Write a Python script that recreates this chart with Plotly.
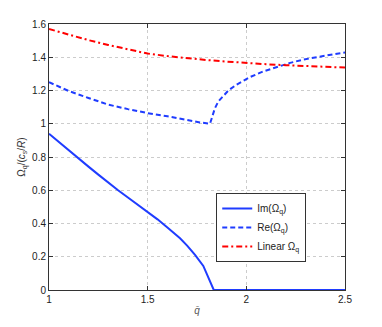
import plotly.graph_objects as go

# Data
q_im = [1.0, 1.05, 1.1, 1.15, 1.2, 1.25, 1.3, 1.35, 1.4, 1.45, 1.5, 1.55, 1.6, 1.664, 1.7, 1.74, 1.782, 1.835, 2.0, 2.5]
im_vals = [0.94, 0.889, 0.839, 0.79, 0.742, 0.694, 0.646, 0.6, 0.556, 0.514, 0.472, 0.425, 0.376, 0.311, 0.267, 0.211, 0.145, 0.0, 0.0, 0.0]

q_re = [1.0, 1.1, 1.2, 1.25, 1.3, 1.4, 1.5, 1.6, 1.7, 1.765, 1.816, 1.825, 1.841, 1.858, 1.88, 1.909, 1.95,
        1.977, 2.019, 2.086, 2.171, 2.222, 2.289, 2.373, 2.441, 2.5]
re_vals = [1.25, 1.197, 1.155, 1.134, 1.115, 1.088, 1.064, 1.045, 1.022, 1.008, 1.0, 1.04, 1.094, 1.134, 1.165,
           1.2, 1.235, 1.255, 1.281, 1.315, 1.349, 1.366, 1.386, 1.405, 1.418, 1.428]

q_lin = [1.0, 1.1, 1.2, 1.3, 1.4, 1.5, 1.6, 1.7, 1.8, 1.9, 2.0, 2.1, 2.2, 2.3, 2.4, 2.5]
lin_vals = [1.57, 1.535, 1.503, 1.474, 1.447, 1.422, 1.407, 1.394, 1.383, 1.374, 1.364, 1.358, 1.352, 1.347, 1.342, 1.338]

x_ticks = [1, 1.5, 2, 2.5]
x_labels = ["1", "1.5", "2", "2.5"]
y_ticks = [0, 0.2, 0.4, 0.6, 0.8, 1, 1.2, 1.4, 1.6]
y_labels = ["0", "0.2", "0.4", "0.6", "0.8", "1", "1.2", "1.4", "1.6"]

BLUE = "#1f3cff"
RED = "#ff0000"
FONT = "Liberation Sans, Arial, sans-serif"

fig = go.Figure()
fig.add_trace(go.Scatter(x=q_im, y=im_vals, mode="lines", name="Im(Ω<sub>q</sub>)",
                         line=dict(color=BLUE, width=2)))
fig.add_trace(go.Scatter(x=q_re, y=re_vals, mode="lines", name="Re(Ω<sub>q</sub>)",
                         line=dict(color=BLUE, width=2, dash="5px,3px")))
fig.add_trace(go.Scatter(x=q_lin, y=lin_vals, mode="lines", name="Linear Ω<sub>q</sub>",
                         line=dict(color=RED, width=2, dash="6px,3px,2px,3px")))

axis_common = dict(showline=True, linecolor="#333333", linewidth=1, mirror="ticks",
                   ticks="inside", ticklen=4, tickcolor="#333333", automargin=False,
                   showgrid=True, gridcolor="#cccccc", griddash="dot", gridwidth=1,
                   zeroline=False, tickfont=dict(size=10, color="#222222", family=FONT))

fig.update_xaxes(range=[1, 2.5], tickvals=x_ticks, ticktext=x_labels,
                 title=dict(text="<i>q̄</i>", font=dict(size=10, color="#555555", family=FONT), standoff=2),
                 **axis_common)
fig.update_yaxes(range=[0, 1.6], tickvals=y_ticks, ticktext=y_labels,
                 title=dict(text="Ω<sub>q</sub>/(<i>c<sub>s</sub></i>/<i>R</i>)",
                            font=dict(size=10, color="#333333", family=FONT), standoff=4),
                 **axis_common)

# The page body adds an 8px offset at left/top, so the figure is 8px smaller
fig.update_layout(
    width=374, height=319,
    margin=dict(l=41, r=37, t=16, b=37),
    paper_bgcolor="white", plot_bgcolor="white",
    font=dict(family=FONT, size=10, color="#222222"),
    legend=dict(x=0.565, y=0.365, xanchor="left", yanchor="top",
                bgcolor="white", bordercolor="#333333", borderwidth=1,
                font=dict(size=10, family=FONT, color="#222222"),
                itemwidth=30, tracegroupgap=0),
    showlegend=True,
)

fig.write_html("out.html")
